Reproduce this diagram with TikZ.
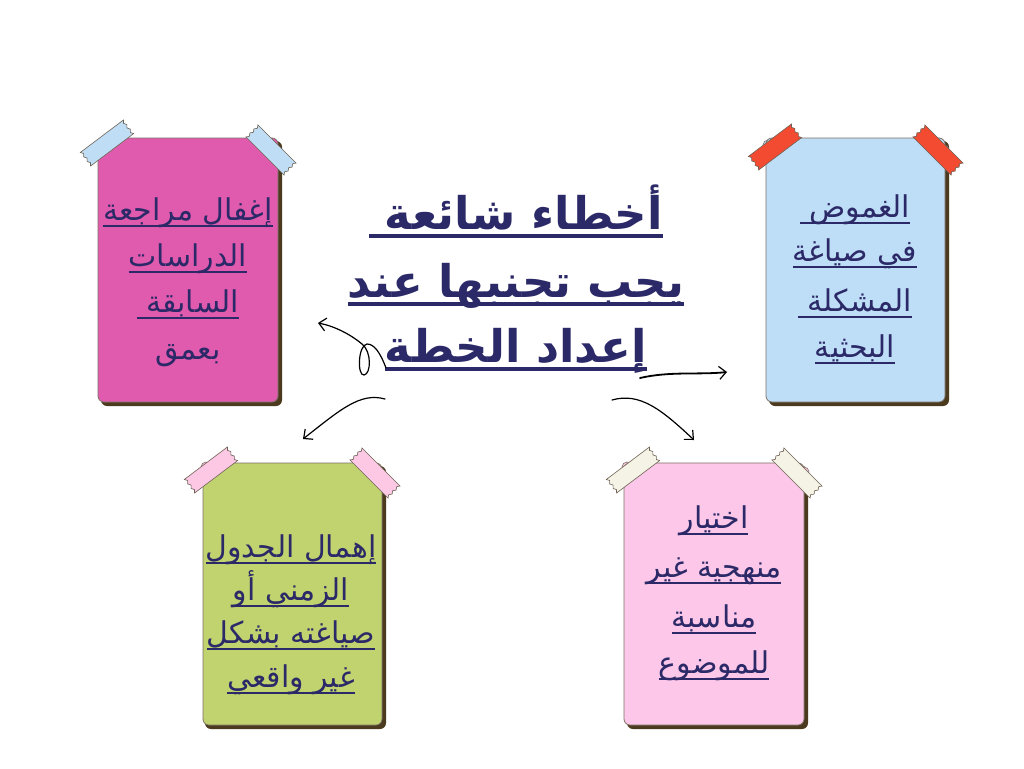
\documentclass[tikz,border=0pt]{standalone}
\usepackage{fontspec}
\usetikzlibrary{arrows.meta}
\TeXXeTstate=1
\newfontfamily\arabicfont[Script=Arabic]{DejaVu Sans}
\newfontfamily\arabicbold[Script=Arabic]{DejaVu Sans Bold}
\definecolor{navy}{HTML}{2B2967}
\definecolor{cpink}{HTML}{E05BAD}
\definecolor{cblue}{HTML}{BEDDF6}
\definecolor{cgreen}{HTML}{C1D36F}
\definecolor{clpink}{HTML}{FCC7E8}
\definecolor{tblue}{HTML}{BFDDF5}
\definecolor{tred}{HTML}{F24B32}
\definecolor{tpink}{HTML}{FCC8E4}
\definecolor{tcream}{HTML}{F5F2E6}
\definecolor{shade}{HTML}{4B3A1E}
\definecolor{edge}{HTML}{7E7166}
\definecolor{tedge}{HTML}{6E6255}
% underlined text: #1 rule top below baseline, #2 rule bottom, #3 text (already in \beginR..\endR)
\newcommand\ulr[3]{\setbox0=\hbox{#3}\leavevmode\rlap{\vrule width\wd0 height -#1 depth #2}\box0}
\tikzset{
  cardtxt/.style={anchor=base, inner sep=0pt, text=navy, font=\arabicfont\fontsize{30}{34}\selectfont},
  titletxt/.style={anchor=base, inner sep=0pt, text=navy, font=\arabicbold\fontsize{45}{50}\selectfont},
  card/.style={draw=edge, line width=0.8pt, rounded corners=6pt},
  cshadow/.style={fill=shade, rounded corners=6pt},
  pin/.style={draw=edge, line width=0.6pt},
  sketch/.style={draw=black, line width=1.2pt, line cap=round, -{Straight Barb[length=7pt,width=13pt,line width=1.2pt]}},
  tape/.pic={\filldraw[draw=tedge, line width=0.6pt, fill=#1]
    (-27,-8.5) -- (27,-8.5) -- (25,-5.7) -- (27,-2.8) -- (25,0) -- (27,2.8) -- (25,5.7) -- (27,8.5)
    -- (-27,8.5) -- (-25,5.7) -- (-27,2.8) -- (-25,0) -- (-27,-2.8) -- (-25,-5.7) -- cycle;}
}
\begin{document}
\begin{tikzpicture}[x=1pt,y=-1pt]
\useasboundingbox[fill=white] (0,0) rectangle (1024,768);

% ---- cards ----
% pink (top-left)
\fill[cshadow] (101,141) rectangle (282,406);
\draw[pin, fill=cpink] (100,145) circle (5);
\fill[card, fill=cpink] (98,138) rectangle (278,402);
% blue (top-right)
\fill[cshadow] (769,141) rectangle (949,406);
\draw[pin, fill=cblue] (768,145) circle (5);
\draw[pin, fill=cblue] (944,150) circle (5);
\fill[card, fill=cblue] (766,138) rectangle (945,402);
% green (bottom-left)
\fill[cshadow] (205,466) rectangle (386,729);
\draw[pin, fill=tpink] (206,467) circle (5);
\fill[card, fill=cgreen] (203,463) rectangle (382,725);
% light pink (bottom-right)
\fill[cshadow] (627,466) rectangle (808,729);
\draw[pin, fill=tpink] (627,467) circle (5);
\draw[pin, fill=tpink] (804,472) circle (5);
\fill[card, fill=clpink] (624,463) rectangle (804,725);

% ---- tapes ----
\pic[rotate=37] at (107,143) {tape=tblue};
\pic[rotate=-45] at (271,150) {tape=tblue};
\pic[rotate=37] at (775,147) {tape=tred};
\pic[rotate=-45] at (938,150) {tape=tred};
\pic[rotate=37] at (211,470) {tape=tpink};
\pic[rotate=-45] at (375,473) {tape=tpink};
\pic[rotate=37] at (633,470) {tape=tcream};
\pic[rotate=-45] at (797,473) {tape=tcream};

% ---- title ----
\node[titletxt] (t1) at (516,229) {\ulr{5pt}{8.5pt}{\beginR أخطاء شائعة \endR}};
\node[titletxt] (t2) at (516,297) {\ulr{5pt}{8.5pt}{\beginR يجب تجنبها عند\endR}};
\node[titletxt] (t3) at (516,362) {\ulr{5pt}{8.5pt}{\beginR إعداد الخطة\endR}};

% ---- card texts ----
\node[cardtxt] (p1) at (188,220) {\ulr{5pt}{7pt}{\beginR إغفال مراجعة\endR}};
\node[cardtxt] (p2) at (188,266) {\ulr{5pt}{7pt}{\beginR الدراسات\endR}};
\node[cardtxt] (p3) at (188,312) {\ulr{5pt}{7pt}{\beginR السابقة \endR}};
\node[cardtxt] (p4) at (188,359) {\beginR بعمق\endR};

\node[cardtxt] (b1) at (855,217) {\ulr{5pt}{7pt}{\beginR الغموض \endR}};
\node[cardtxt] (b2) at (855,261) {\ulr{5pt}{7pt}{\beginR في صياغة\endR}};
\node[cardtxt] (b3) at (855,311) {\ulr{5pt}{7pt}{\beginR المشكلة \endR}};
\node[cardtxt] (b4) at (855,357) {\ulr{5pt}{7pt}{\beginR البحثية\endR}};

\node[cardtxt] (g1) at (291,557) {\ulr{5pt}{7pt}{\beginR إهمال الجدول\endR}};
\node[cardtxt] (g2) at (291,600) {\ulr{5pt}{7pt}{\beginR الزمني أو\endR}};
\node[cardtxt] (g3) at (291,643) {\ulr{5pt}{7pt}{\beginR صياغته بشكل\endR}};
\node[cardtxt] (g4) at (291,687) {\ulr{5pt}{7pt}{\beginR غير واقعي\endR}};

\node[cardtxt] (l1) at (714,528) {\ulr{5pt}{7pt}{\beginR اختيار\endR}};
\node[cardtxt] (l2) at (714,577) {\ulr{5pt}{7pt}{\beginR منهجية غير\endR}};
\node[cardtxt] (l3) at (714,627) {\ulr{5pt}{7pt}{\beginR مناسبة\endR}};
\node[cardtxt] (l4) at (714,673) {\ulr{5pt}{7pt}{\beginR للموضوع\endR}};

% ---- sketchy arrows ----
\coordinate (a1s) at (386,368);
\coordinate (a1e) at (318,323);
\coordinate (a2s) at (385,399);
\coordinate (a2e) at (303,439);
\coordinate (a3s) at (640,378);
\coordinate (a3e) at (727,372);
\coordinate (a4s) at (612,400);
\coordinate (a4e) at (694,440);

\draw[sketch] (a1s) .. controls (380,352) and (374,344) .. (367,344)
  .. controls (358,345) and (357,376) .. (364,375)
  .. controls (371,374) and (372,352) .. (362,344)
  .. controls (350,334) and (334,326) .. (a1e);
\draw[sketch] (a2s) .. controls (360,392) and (340,410) .. (a2e);
\draw[sketch, line width=1.8pt] (a3s) .. controls (670,371) and (700,375) .. (a3e);
\draw[sketch] (a4s) .. controls (640,392) and (662,410) .. (a4e);
\end{tikzpicture}
\end{document}
